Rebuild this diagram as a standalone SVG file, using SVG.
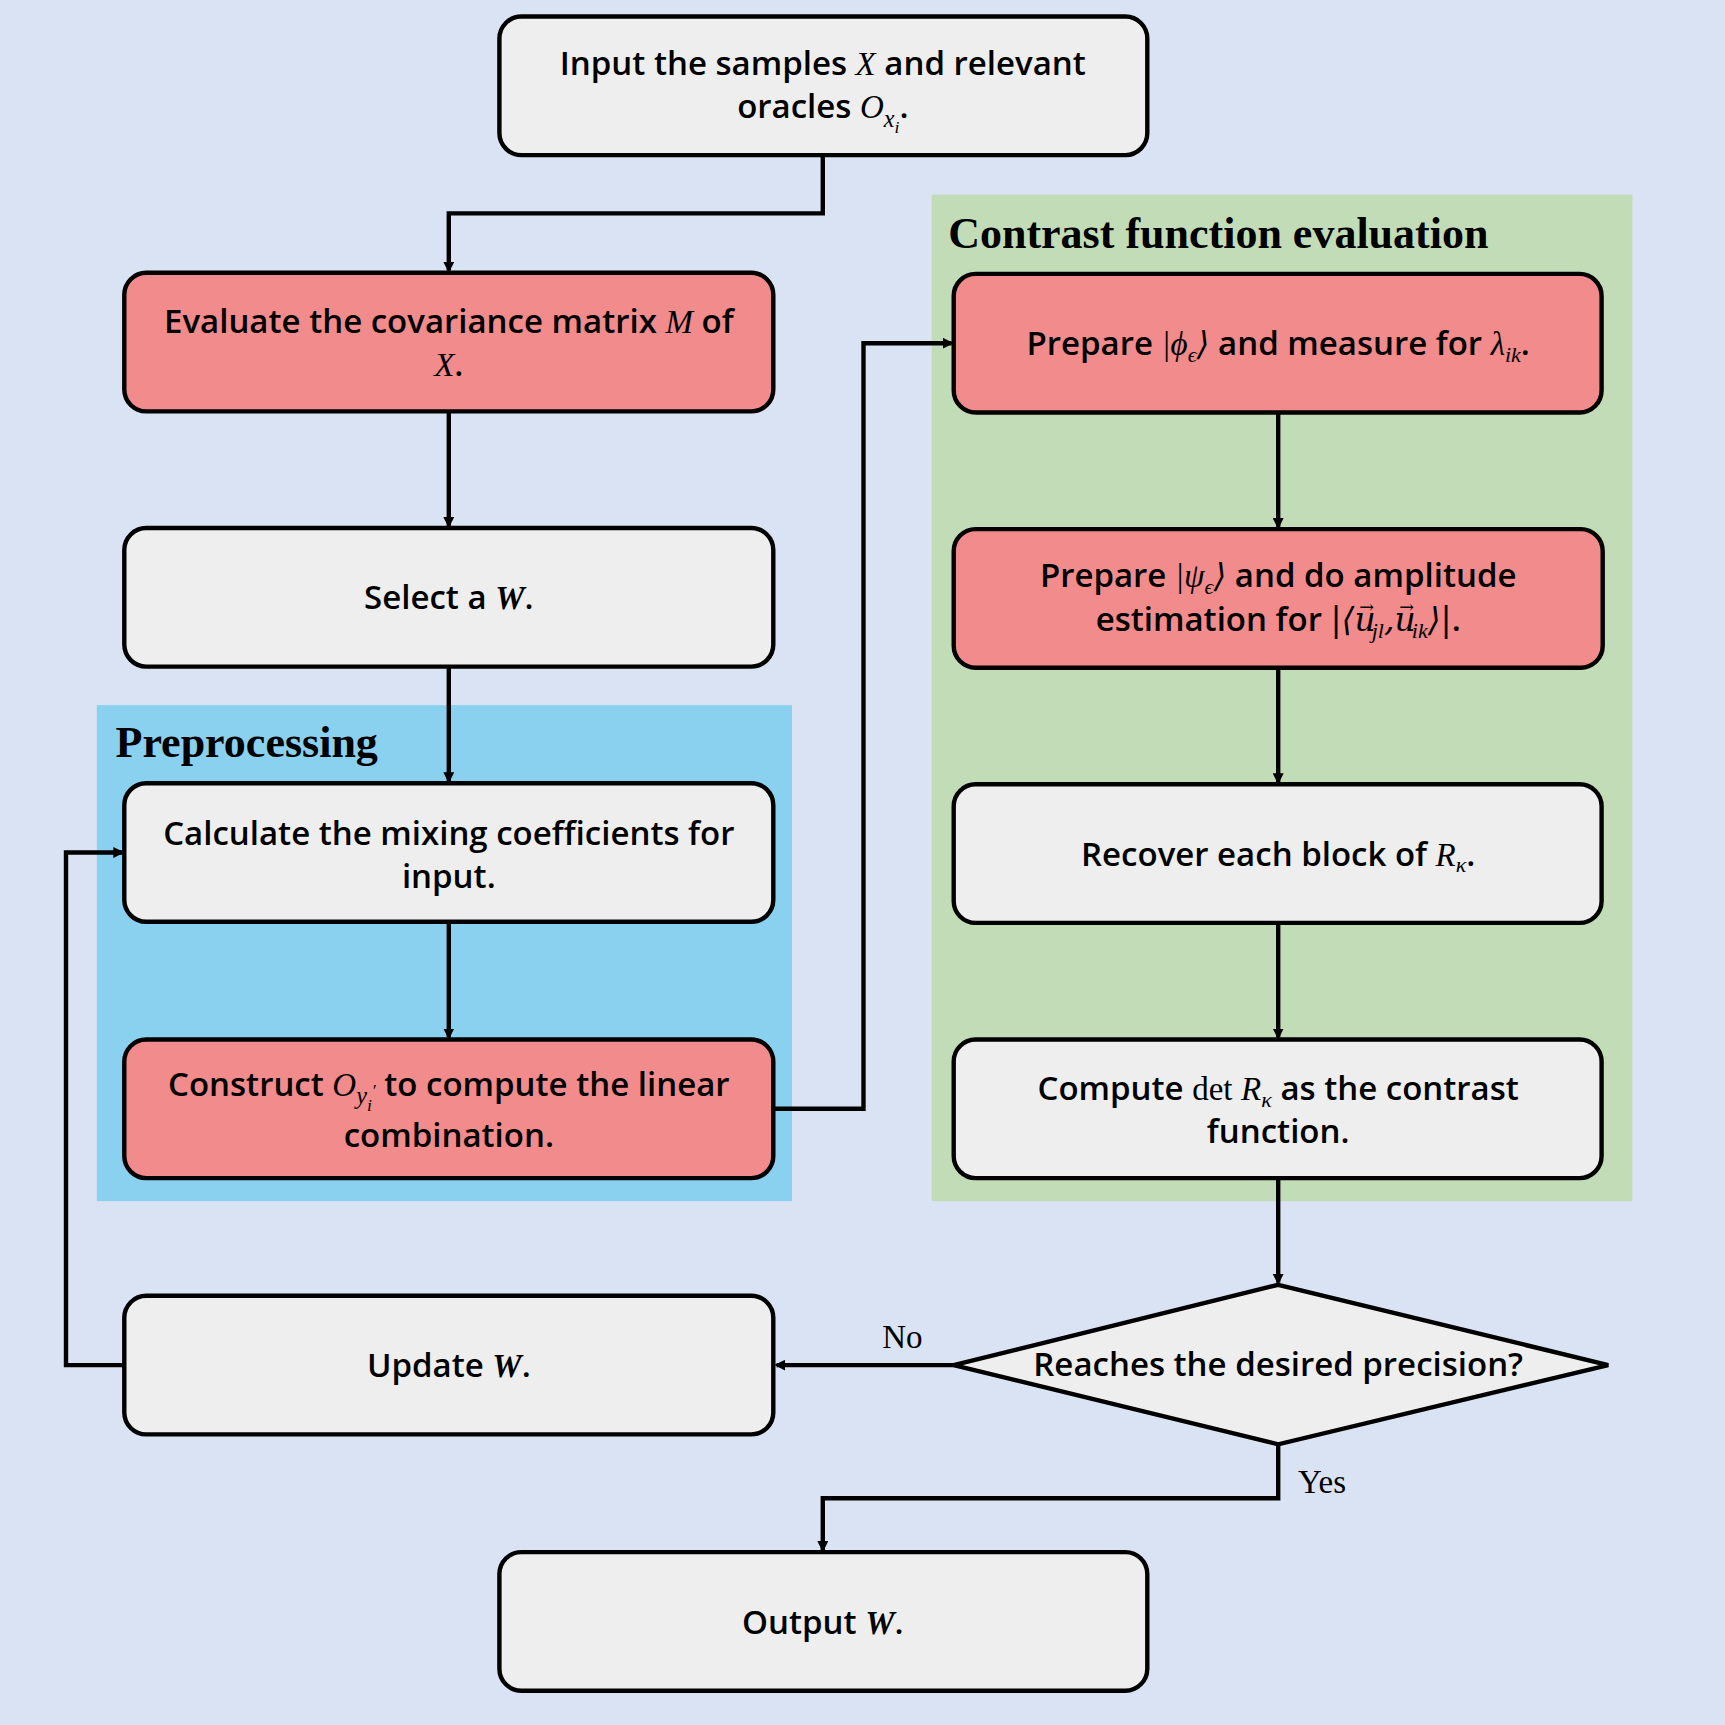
<svg xmlns="http://www.w3.org/2000/svg" width="1725" height="1725" viewBox="0 0 1725 1725">
<defs>
<marker id="ah" markerWidth="10" markerHeight="10" refX="8" refY="5" orient="auto" markerUnits="userSpaceOnUse" viewBox="0 0 10 10"><path d="M0,0 L10,5 L0,10 z" fill="#000"/></marker>
<style>
.b{stroke:#000;stroke-width:4}
.g{fill:#eeeeee}.r{fill:#f28b8b}
.t{font-family:"Open Sans","Liberation Sans",sans-serif;font-weight:600;font-size:30px;text-anchor:middle;fill:#000}
.m{font-family:"Liberation Serif",serif;font-style:italic;font-weight:normal}
.d{font-family:"DejaVu Serif",serif;font-style:italic;font-weight:normal}
.mb{font-family:"Liberation Serif",serif;font-style:italic;font-weight:bold}
.h{font-family:"Liberation Serif",serif;font-weight:bold;font-size:40px;fill:#000}
.l{font-family:"Liberation Serif",serif;font-size:30px;fill:#000}
.c{fill:none;stroke:#000;stroke-width:4;marker-end:url(#ah)}
</style>
</defs>
<rect width="1725" height="1725" fill="#dae3f3"/>
<g transform="scale(1.1)">
<rect x="88" y="641" width="632" height="451" fill="#8ad1f0"/>
<rect x="847" y="177" width="637" height="915" fill="#c2dcb8"/>
<text class="h" x="105" y="688">Preprocessing</text>
<text class="h" x="862" y="225">Contrast function evaluation</text>
<g id="connectors">
<path class="c" d="M748,141 V194 H408 V246"/>
<path class="c" d="M408,374 V478"/>
<path class="c" d="M408,606 V710"/>
<path class="c" d="M408,838 V943"/>
<path class="c" d="M703,1008 H785 V312 H865"/>
<path class="c" d="M1162,375 V479"/>
<path class="c" d="M1162,607 V711"/>
<path class="c" d="M1162,839 V943"/>
<path class="c" d="M1162,1071 V1166"/>
<path class="c" d="M867,1241 H706"/>
<path class="c" d="M1162,1313 V1362 H748 V1409"/>
<path class="c" d="M113,1241 H60 V775 H111"/>
<text class="l" x="802" y="1225">No</text>
<text class="l" x="1180" y="1357">Yes</text>
</g>
<g id="n1"><rect class="b g" x="454" y="15" width="589" height="126" rx="20"/>
<text class="t" x="748" y="68">Input the samples <tspan class="m">X</tspan> and relevant</text>
<text class="t" x="748" y="107">oracles <tspan class="m">O</tspan><tspan class="m" font-size="22" dy="8">x</tspan><tspan class="m" font-size="16" dy="6">i</tspan><tspan dy="-14">.</tspan></text></g>
<g id="n2"><rect class="b r" x="113" y="248" width="590" height="126" rx="20"/>
<text class="t" x="408" y="303">Evaluate the covariance matrix <tspan class="m">M</tspan> of</text>
<text class="t" x="408" y="342"><tspan class="m">X</tspan>.</text></g>
<g id="n3"><rect class="b g" x="113" y="480" width="590" height="126" rx="20"/>
<text class="t" x="408" y="554">Select a <tspan class="mb">W</tspan>.</text></g>
<g id="n4"><rect class="b g" x="113" y="712" width="590" height="126" rx="20"/>
<text class="t" x="408" y="768">Calculate the mixing coefficients for</text>
<text class="t" x="408" y="807">input.</text></g>
<g id="n5"><rect class="b r" x="113" y="945" width="590" height="126" rx="20"/>
<text class="t" x="408" y="996">Construct <tspan class="m">O</tspan><tspan class="m" font-size="22" dy="8">y</tspan><tspan class="m" font-size="16" dy="6">i</tspan><tspan class="m" font-size="16" dy="-14">′</tspan><tspan dy="0"> to compute the linear</tspan></text>
<text class="t" x="408" y="1043">combination.</text></g>
<g id="n6"><rect class="b g" x="113" y="1178" width="590" height="126" rx="20"/>
<text class="t" x="408" y="1252">Update <tspan class="mb">W</tspan>.</text></g>
<g id="n7"><rect class="b g" x="454" y="1411" width="589" height="126" rx="20"/>
<text class="t" x="748" y="1485">Output <tspan class="mb">W</tspan>.</text></g>
<g id="n8"><rect class="b r" x="867" y="249" width="589" height="126" rx="20"/>
<text class="t" x="1162" y="323">Prepare <tspan class="m">|ϕ</tspan><tspan class="m" font-size="20" dy="6">ϵ</tspan><tspan class="d" dy="-6">⟩</tspan> and measure for <tspan class="m">λ</tspan><tspan class="m" font-size="20" dy="6">ik</tspan><tspan dy="-6">.</tspan></text></g>
<g id="n9"><rect class="b r" x="867" y="481" width="590" height="126" rx="20"/>
<text class="t" x="1162" y="534">Prepare <tspan class="m">|ψ</tspan><tspan class="m" font-size="20" dy="6">ϵ</tspan><tspan class="d" dy="-6">⟩</tspan> and do amplitude</text>
<text class="t" x="1162" y="574">estimation for <tspan class="d">|⟨u</tspan><tspan class="d" font-size="16" dx="-15" dy="-17">→</tspan><tspan class="m" font-size="20" dx="-2" dy="23">jl</tspan><tspan class="d" dy="-6">,u</tspan><tspan class="d" font-size="16" dx="-15" dy="-17">→</tspan><tspan class="m" font-size="20" dx="-2" dy="23">ik</tspan><tspan class="d" dy="-6">⟩|</tspan>.</text></g>
<g id="n10"><rect class="b g" x="867" y="713" width="589" height="126" rx="20"/>
<text class="t" x="1162" y="787">Recover each block of <tspan class="m">R</tspan><tspan class="m" font-size="20" dy="6">κ</tspan><tspan dy="-6">.</tspan></text></g>
<g id="n11"><rect class="b g" x="867" y="945" width="589" height="126" rx="20"/>
<text class="t" x="1162" y="1000">Compute <tspan font-family="Liberation Serif" font-weight="normal">det</tspan> <tspan class="m">R</tspan><tspan class="m" font-size="20" dy="6">κ</tspan><tspan dy="-6"> as the contrast</tspan></text>
<text class="t" x="1162" y="1039">function.</text></g>
<g id="n12"><path class="b g" d="M1162,1168 L1462,1241 L1162,1313 L867,1241 Z"/>
<text class="t" x="1162" y="1251">Reaches the desired precision?</text></g>
</g>
</svg>
